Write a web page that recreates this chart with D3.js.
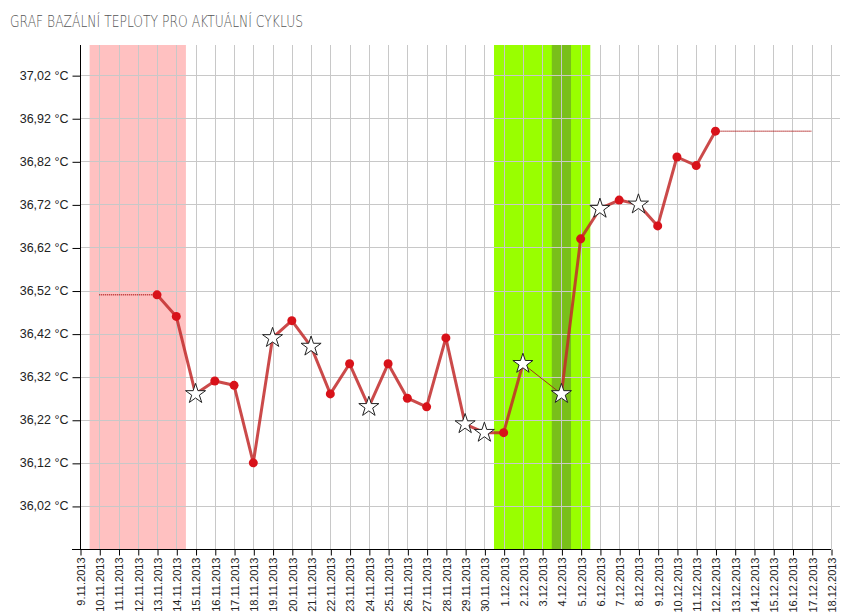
<!DOCTYPE html>
<html>
<head>
<meta charset="utf-8">
<script src="https://cdn.jsdelivr.net/npm/d3@7"></script>
<style>
    body { margin: 0; background: #fff; }
    svg { display: block; font-family: "Liberation Sans", Arial, sans-serif; }
</style>
</head>
<body>
<svg id="chart" width="855" height="616"></svg>
<script>
// cycle days shown on the x axis
var days = ['9.11.2013', '10.11.2013', '11.11.2013', '12.11.2013', '13.11.2013', '14.11.2013',
    '15.11.2013', '16.11.2013', '17.11.2013', '18.11.2013', '19.11.2013', '20.11.2013',
    '21.11.2013', '22.11.2013', '23.11.2013', '24.11.2013', '25.11.2013', '26.11.2013',
    '27.11.2013', '28.11.2013', '29.11.2013', '30.11.2013', '1.12.2013', '2.12.2013',
    '3.12.2013', '4.12.2013', '5.12.2013', '6.12.2013', '7.12.2013', '8.12.2013',
    '9.12.2013', '10.12.2013', '11.12.2013', '12.12.2013', '13.12.2013', '14.12.2013',
    '15.12.2013', '16.12.2013', '17.12.2013', '18.12.2013'];

// measured temperatures (null = not measured)
var measureDays = ['13.11.2013', '14.11.2013', '15.11.2013', '16.11.2013', '17.11.2013',
    '18.11.2013', '19.11.2013', '20.11.2013', '21.11.2013', '22.11.2013', '23.11.2013',
    '24.11.2013', '25.11.2013', '26.11.2013', '27.11.2013', '28.11.2013', '29.11.2013',
    '30.11.2013', '1.12.2013', '2.12.2013', '3.12.2013', '4.12.2013', '5.12.2013',
    '6.12.2013', '7.12.2013', '8.12.2013', '9.12.2013', '10.12.2013', '11.12.2013', '12.12.2013'];
var temps = [36.51, 36.46, 36.28, 36.31, 36.30, 36.12, 36.41, 36.45, 36.39, 36.28, 36.35,
    36.25, 36.35, 36.27, 36.25, 36.41, 36.21, 36.19, 36.19, 36.35, null, 36.28, 36.64,
    36.71, 36.73, 36.72, 36.67, 36.83, 36.81, 36.89];
// marker type: 'star' = flagged measurement, 'dot' = normal
var markers = ['dot', 'dot', 'star', 'dot', 'dot', 'dot', 'star', 'dot', 'star', 'dot', 'dot',
    'star', 'dot', 'dot', 'dot', 'dot', 'star', 'star', 'dot', 'star', null, 'star', 'dot',
    'star', 'dot', 'star', 'dot', 'dot', 'dot', 'dot'];

// y ticks
var tempTicks = [36.02, 36.12, 36.22, 36.32, 36.42, 36.52, 36.62, 36.72, 36.82, 36.92, 37.02];

// periods: menstruation (pink), fertile window (green), ovulation (dark green)
var periodStart = ['10.11.2013', '1.12.2013', '4.12.2013'];
var periodEnd = ['14.11.2013', '5.12.2013', '4.12.2013'];
var periodColor = ['#ffc1c1', '#99ff00', '#79bf1a'];

// dotted extensions: [fromDay, toDay, temp]
var extFrom = ['10.11.2013', '12.12.2013'];
var extTo = ['13.11.2013', '17.12.2013'];
var extTemp = [36.51, 36.89];

var svg = d3.select('#chart');

var x = d3.scalePoint()
    .domain(days)
    .range([80, 831]);
var step = x.step();

var y = d3.scaleLinear()
    .domain([35.92, 37.09])
    .range([549, 45]);

// title
svg.append('text')
    .attr('x', 10)
    .attr('y', 27)
    .attr('textLength', 293)
    .attr('lengthAdjust', 'spacingAndGlyphs')
    .style('font-family', '"DejaVu Sans", Roboto, sans-serif')
    .style('font-weight', 200)
    .style('font-size', '16.5px')
    .style('fill', '#555')
    .text('GRAF BAZÁLNÍ TEPLOTY PRO AKTUÁLNÍ CYKLUS');

// bands
svg.append('g').selectAll('rect')
    .data(periodStart)
    .enter().append('rect')
    .attr('x', function(d) { return x(d) - step / 2; })
    .attr('width', function(d, i) { return x(periodEnd[i]) - x(d) + step; })
    .attr('y', y.range()[1])
    .attr('height', y.range()[0] - y.range()[1])
    .style('fill', function(d, i) { return periodColor[i]; });

// grid
var grid = svg.append('g').style('stroke', '#c8c8c8').style('stroke-width', 1);
grid.selectAll('.vg')
    .data(days.slice(1))
    .enter().append('line')
    .attr('x1', function(d) { return Math.round(x(d)) + 0.5; })
    .attr('x2', function(d) { return Math.round(x(d)) + 0.5; })
    .attr('y1', 45)
    .attr('y2', 549);
grid.selectAll('.hg')
    .data(tempTicks)
    .enter().append('line')
    .attr('x1', 80)
    .attr('x2', 840)
    .attr('y1', function(d) { return Math.round(y(d)) + 0.5; })
    .attr('y2', function(d) { return Math.round(y(d)) + 0.5; });

// axes
var yAxis = d3.axisLeft(y)
    .tickValues(tempTicks)
    .tickSize(8)
    .tickPadding(4)
    .tickFormat(function(d) { return d3.format('.2f')(d).replace('.', ',') + ' °C'; });

svg.append('g')
    .attr('transform', 'translate(80.5,0)')
    .call(yAxis)
    .call(function(g) {
        g.select('.domain').attr('d', 'M0,45V549');
        g.selectAll('text').style('font-size', '12.5px').style('fill', '#222')
            .style('font-family', '"Liberation Sans", Arial, sans-serif');
        g.selectAll('.tick line').attr('transform', 'translate(0,0.5)');
    });

var xAxis = d3.axisBottom(x)
    .tickSize(6)
    .tickPadding(3);

svg.append('g')
    .attr('transform', 'translate(0,549.5)')
    .call(xAxis)
    .call(function(g) {
        g.select('.domain').attr('d', 'M72,0H831');
        g.selectAll('.tick line').attr('transform', 'translate(0.5,0)');
        g.selectAll('text')
            .attr('transform', 'rotate(-90)')
            .attr('x', -8)
            .attr('y', 0.5)
            .attr('dy', '0.35em')
            .style('text-anchor', 'end')
            .style('font-size', '11px')
            .style('fill', '#222')
            .style('font-family', '"Liberation Sans", Arial, sans-serif');
    });

// dotted extensions
svg.append('g').selectAll('line')
    .data(extFrom)
    .enter().append('line')
    .attr('x1', function(d) { return x(d); })
    .attr('x2', function(d, i) { return x(extTo[i]); })
    .attr('y1', function(d, i) { return y(extTemp[i]); })
    .attr('y2', function(d, i) { return y(extTemp[i]); })
    .style('stroke', '#b02020')
    .style('stroke-width', 1.5)
    .style('stroke-dasharray', '1,1');

var points = measureDays.map(function(d, i) {
    return {day: d, temp: temps[i], marker: markers[i]};
});

// thin line bridging missing days
var known = points.filter(function(p) { return p.temp !== null; });
var bridges = [];
for (var i = 1; i < points.length; i++) {
    if (points[i].temp === null) {
        var prev = points[i - 1], next = points[i + 1];
        if (prev && next && prev.temp !== null && next.temp !== null) bridges.push([prev, next]);
    }
}
svg.append('g').selectAll('line')
    .data(bridges)
    .enter().append('line')
    .attr('x1', function(d) { return x(d[0].day); })
    .attr('y1', function(d) { return y(d[0].temp); })
    .attr('x2', function(d) { return x(d[1].day); })
    .attr('y2', function(d) { return y(d[1].temp); })
    .style('stroke', '#9a3a1a')
    .style('stroke-width', 1);

var line = d3.line()
    .defined(function(d) { return d.temp !== null; })
    .x(function(d) { return x(d.day); })
    .y(function(d) { return y(d.temp); });

svg.append('path')
    .datum(points)
    .attr('d', line)
    .style('fill', 'none')
    .style('stroke', '#c22a2a')
    .style('stroke-opacity', 0.85)
    .style('stroke-width', 3)
    .style('stroke-linejoin', 'round');

svg.append('g').selectAll('circle')
    .data(known.filter(function(p) { return p.marker === 'dot'; }))
    .enter().append('circle')
    .attr('cx', function(d) { return x(d.day); })
    .attr('cy', function(d) { return y(d.temp); })
    .attr('r', 4.5)
    .style('fill', '#d8121a');

var star = d3.symbol().type(d3.symbolStar).size(125);
svg.append('g').selectAll('path')
    .data(known.filter(function(p) { return p.marker === 'star'; }))
    .enter().append('path')
    .attr('d', star)
    .attr('transform', function(d) { return 'translate(' + x(d.day) + ',' + y(d.temp) + ')'; })
    .style('fill', '#fff')
    .style('stroke', '#222')
    .style('stroke-width', 1);
</script>
</body>
</html>
